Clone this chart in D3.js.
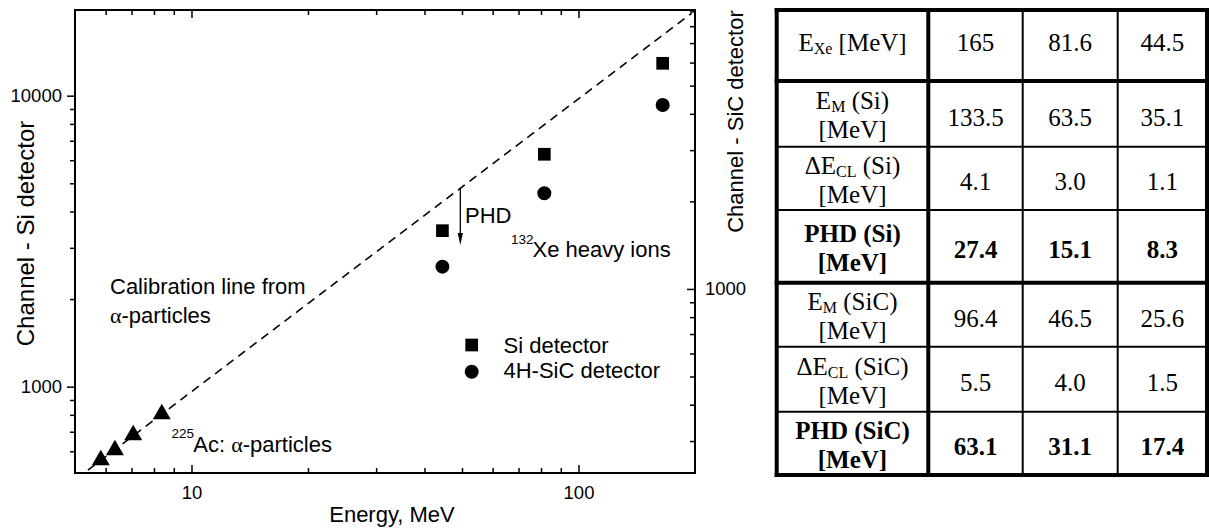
<!DOCTYPE html>
<html>
<head>
<meta charset="utf-8">
<script src="https://cdn.jsdelivr.net/npm/d3@7"></script>
<style>
  html, body { margin: 0; padding: 0; background: #fff; }
  svg { display: block; }
  .ax text { font-family: "Liberation Sans", Arial, sans-serif; font-size: 18.5px; fill: #000; }
  .ax line { stroke: #000; stroke-width: 1.5px; }
  .ax path { display: none; }
</style>
</head>
<body>
<svg id="chart" width="1209" height="529"></svg>
<script>
// ---------------- DATA ----------------
const alphaEnergy  = [5.83, 6.34, 7.07, 8.38];      // MeV (225Ac chain)
const alphaChannel = [559, 605, 682, 805];           // Si channel
const xeEnergy     = [44.5, 81.6, 165];              // MeV
const siChannel    = [3436, 6290, 12920];            // left axis
const sicChannel   = [1193, 2133, 4289];             // right axis
const calibEnergy  = [5.4, 196];
const calibChannel = [517, 19200];
const phdArrowE    = 49.5;
const phdArrowCh   = [4808, 3069];

const xMajorTicks = [10, 100];
const xMinorTicks = [6, 7, 8, 9, 20, 30, 40, 50, 60, 70, 80, 90];
const yLeftMajorTicks = [1000, 10000];
const yLeftMinorTicks = [600, 700, 800, 900, 2000, 3000, 4000, 5000, 6000, 7000, 8000, 9000];
const yRightMajorTicks = [1000];
const yRightMinorTicks = [300, 400, 500, 600, 700, 800, 900, 2000, 3000, 4000, 5000, 6000, 7000, 8000, 9000];

// table
const exeValues = ["165", "81.6", "44.5"];
const emSi    = ["133.5", "63.5", "35.1"];
const dEclSi  = ["4.1", "3.0", "1.1"];
const phdSi   = ["27.4", "15.1", "8.3"];
const emSiC   = ["96.4", "46.5", "25.6"];
const dEclSiC = ["5.5", "4.0", "1.5"];
const phdSiC  = ["63.1", "31.1", "17.4"];
const tableValues = [exeValues, emSi, dEclSi, phdSi, emSiC, dEclSiC, phdSiC];
const rowLabels = [
  [[["E"], ["Xe", "sub"], [" [MeV]"]]],
  [[["E"], ["M", "sub"], [" (Si)"]], [["[MeV]"]]],
  [[["ΔE"], ["CL", "sub"], [" (Si)"]], [["[MeV]"]]],
  [[["PHD (Si)"]], [["[MeV]"]]],
  [[["E"], ["M", "sub"], [" (SiC)"]], [["[MeV]"]]],
  [[["ΔE"], ["CL", "sub"], [" (SiC)"]], [["[MeV]"]]],
  [[["PHD (SiC)"]], [["[MeV]"]]]
];
const boldRows = [false, false, false, true, false, false, true];

// ---------------- LAYOUT ----------------
const L = 75, R = 695, T = 10, B = 473;
const svg = d3.select("#chart");
const sans = '"Liberation Sans", Arial, sans-serif';
const serif = '"Liberation Serif", "Times New Roman", serif';

const x  = d3.scaleLog().domain([5, 200]).range([L, R]);
const yL = d3.scaleLog().domain([505, 19700]).range([B, T]);
const yR = d3.scaleLog().domain([233, 9095]).range([B, T]);

function addAxis(axis, tx, ty) {
  return svg.append("g").attr("class", "ax").attr("transform", `translate(${tx},${ty})`).call(axis);
}
// bottom (ticks inward)
addAxis(d3.axisBottom(x).tickValues(xMajorTicks).tickFormat(d3.format("d")).tickSize(-8).tickPadding(13).tickSizeOuter(0), 0, B);
addAxis(d3.axisBottom(x).tickValues(xMinorTicks).tickFormat("").tickSize(-5).tickSizeOuter(0), 0, B);
// top (ticks inward)
addAxis(d3.axisBottom(x).tickValues(xMajorTicks).tickFormat("").tickSize(8).tickSizeOuter(0), 0, T);
addAxis(d3.axisBottom(x).tickValues(xMinorTicks).tickFormat("").tickSize(5).tickSizeOuter(0), 0, T);
// left (ticks outward)
addAxis(d3.axisLeft(yL).tickValues(yLeftMajorTicks).tickFormat(d3.format("d")).tickSize(8).tickPadding(5).tickSizeOuter(0), L, 0);
addAxis(d3.axisLeft(yL).tickValues(yLeftMinorTicks).tickFormat("").tickSize(5).tickSizeOuter(0), L, 0);
// right (ticks inward)
addAxis(d3.axisRight(yR).tickValues(yRightMajorTicks).tickFormat(d3.format("d")).tickSize(-8).tickPadding(10).tickSizeOuter(0), R, 0);
addAxis(d3.axisRight(yR).tickValues(yRightMinorTicks).tickFormat("").tickSize(-5).tickSizeOuter(0), R, 0);

// frame
svg.append("rect").attr("x", L).attr("y", T).attr("width", R - L).attr("height", B - T)
  .attr("fill", "none").attr("stroke", "#000").attr("stroke-width", 2);

// axis titles
svg.append("text").attr("x", 392).attr("y", 521.5).attr("text-anchor", "middle")
  .attr("font-family", sans).attr("font-size", 22).text("Energy, MeV");
svg.append("text").attr("transform", "translate(33.5,233.5) rotate(-90)").attr("text-anchor", "middle")
  .attr("font-family", sans).attr("font-size", 24).text("Channel - Si detector");
svg.append("text").attr("transform", "translate(743,121.5) rotate(-90)").attr("text-anchor", "middle")
  .attr("font-family", sans).attr("font-size", 22).text("Channel - SiC detector");

// calibration line
const calib = calibEnergy.map((e, i) => [e, calibChannel[i]]);
svg.append("path").datum(calib)
  .attr("d", d3.line().x(d => x(d[0])).y(d => yL(d[1])))
  .attr("fill", "none").attr("stroke", "#000").attr("stroke-width", 1.6).attr("stroke-dasharray", "8.5,6");

// markers
const tri = d3.symbol().type(d3.symbolTriangle).size(140);
svg.append("g").selectAll("path").data(alphaEnergy).join("path")
  .attr("d", tri).attr("transform", (d, i) => `translate(${x(d)},${yL(alphaChannel[i])})`).attr("fill", "#000");
const sq = d3.symbol().type(d3.symbolSquare).size(161);
svg.append("g").selectAll("path").data(xeEnergy).join("path")
  .attr("d", sq).attr("transform", (d, i) => `translate(${x(d)},${yL(siChannel[i])})`).attr("fill", "#000");
const circ = d3.symbol().type(d3.symbolCircle).size(154);
svg.append("g").selectAll("path").data(xeEnergy).join("path")
  .attr("d", circ).attr("transform", (d, i) => `translate(${x(d)},${yR(sicChannel[i])})`).attr("fill", "#000");

// PHD arrow
const ax0 = x(phdArrowE), ay0 = yL(phdArrowCh[0]), ay1 = yL(phdArrowCh[1]);
svg.append("line").attr("x1", ax0).attr("x2", ax0).attr("y1", ay0).attr("y2", ay1 - 8)
  .attr("stroke", "#000").attr("stroke-width", 1.3);
svg.append("path").attr("d", `M${ax0 - 2.6},${ay1 - 12} L${ax0 + 2.6},${ay1 - 12} L${ax0},${ay1} Z`).attr("fill", "#000");

// annotations
function txt(xp, yp, size, content, fam) {
  return svg.append("text").attr("x", xp).attr("y", yp).attr("font-family", fam || sans).attr("font-size", size).text(content);
}
txt(465, 222.7, 22, "PHD");
txt(511, 244, 13.5, "132");
txt(532.5, 257.3, 22, "Xe heavy ions");
txt(110, 294, 22, "Calibration line from");
const a1 = svg.append("text").attr("x", 110).attr("y", 322.7).attr("font-family", sans).attr("font-size", 22);
a1.append("tspan").attr("font-family", serif).text("α");
a1.append("tspan").text("-particles");
txt(171.5, 438, 13.5, "225");
const a2 = svg.append("text").attr("x", 193.3).attr("y", 451.7).attr("font-family", sans).attr("font-size", 22);
a2.append("tspan").text("Ac: ");
a2.append("tspan").attr("font-family", serif).text("α");
a2.append("tspan").text("-particles");

// legend
svg.append("path").attr("d", sq).attr("transform", "translate(471.7,345)").attr("fill", "#000");
svg.append("path").attr("d", circ).attr("transform", "translate(471.7,371.7)").attr("fill", "#000");
txt(503.5, 352.5, 22, "Si detector");
txt(503.5, 378, 22, "4H-SiC detector");

// ---------------- TABLE ----------------
const colEdges = [776.7, 928.3, 1022.7, 1117.7, 1207];
const rowEdges = [10, 81, 146.7, 210, 282.7, 346.7, 411.7, 475];
const thickRows = [0, 1, 4, 7];
const thickCols = [0, 1, 4];
const tg = svg.append("g");
const tfs = 25;

rowLabels.forEach((lines, r) => {
  const cy = (rowEdges[r] + rowEdges[r + 1]) / 2;
  const cx = (colEdges[0] + colEdges[1]) / 2;
  const weight = boldRows[r] ? "bold" : "normal";
  lines.forEach((parts, li) => {
    const by = lines.length === 1 ? cy + 5 : (li === 0 ? cy - 4.5 : cy + 24.5);
    const t = tg.append("text").attr("x", cx).attr("y", by).attr("text-anchor", "middle")
      .attr("font-family", serif).attr("font-size", tfs).attr("font-weight", weight);
    let shifted = false;
    parts.forEach(p => {
      const sp = t.append("tspan").text(p[0]);
      if (p[1] === "sub") { sp.attr("font-size", 16).attr("dy", 3); shifted = true; }
      else if (shifted) { sp.attr("dy", -3); shifted = false; }
    });
  });
  tableValues[r].forEach((v, c) => {
    const vx = (colEdges[c + 1] + colEdges[c + 2]) / 2;
    tg.append("text").attr("x", vx).attr("y", r === 0 ? cy + 5 : cy + 12).attr("text-anchor", "middle")
      .attr("font-family", serif).attr("font-size", tfs).attr("font-weight", weight).text(v);
  });
});
rowEdges.forEach((y, i) => {
  tg.append("line").attr("x1", colEdges[0]).attr("x2", colEdges[colEdges.length - 1]).attr("y1", y).attr("y2", y)
    .attr("stroke", "#000").attr("stroke-width", thickRows.includes(i) ? 4 : 2).attr("stroke-linecap", "square");
});
colEdges.forEach((xx, i) => {
  tg.append("line").attr("x1", xx).attr("x2", xx).attr("y1", rowEdges[0]).attr("y2", rowEdges[rowEdges.length - 1])
    .attr("stroke", "#000").attr("stroke-width", thickCols.includes(i) ? 4 : 2).attr("stroke-linecap", "square");
});
</script>
</body>
</html>
